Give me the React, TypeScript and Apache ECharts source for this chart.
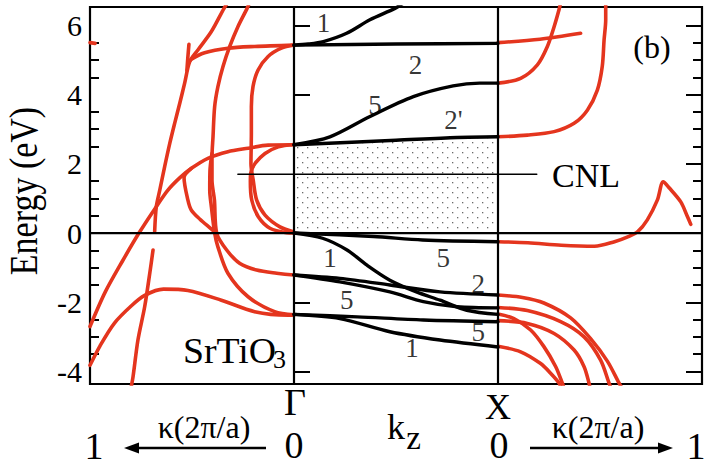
import { useEffect, useRef } from "react";
import * as echarts from "echarts";

const FONT = '"Liberation Serif", "Times New Roman", serif';
const RED = "#e4351e";

// ---- axis values ----
const yMin = -4.36;
const yMax = 6.53;
const majorTicks = [-4, -2, 0, 2, 4, 6];
const minorTicks = [-3.5, -3, -2.5, -1.5, -1, -0.5, 0.5, 1, 1.5, 2.5, 3, 3.5, 4.5, 5, 5.5];
// x: left panel κ 1..0 -> -1..0, middle kz Γ..X -> 0..1, right panel κ 0..1 -> 1..2
const xMin = -1;
const xMax = 2;
const cnlEnergy = 1.7;
const cnlSpan = [-0.275, 1.19];

// ---- middle panel: real bands along kz (fraction Γ→X, energy eV) ----
const kzBand1Upper = [[0, 5.43], [0.07, 5.46], [0.144, 5.53], [0.258, 5.77], [0.372, 6.16], [0.495, 6.49], [0.53, 6.62]];
const kzBand2Upper = [[0, 5.43], [0.5, 5.46], [1, 5.48]];
const kzBand5Upper = [[0, 2.55], [0.176, 2.78], [0.37, 3.36], [0.585, 3.94], [0.78, 4.25], [0.91, 4.33], [1, 4.33]];
const kzBand2Prime = [[0, 2.55], [0.5, 2.68], [0.8, 2.76], [1, 2.78]];
const kzBand5Top = [[0, 0], [0.39, -0.1], [0.63, -0.2], [1, -0.25]];
const kzBand1Top = [[0, 0], [0.14, -0.15], [0.26, -0.49], [0.356, -0.92], [0.47, -1.36], [0.6, -1.7], [0.716, -1.94], [0.847, -2.23], [1, -2.35]];
const kzBand2Mid = [[0, -1.21], [0.225, -1.31], [0.47, -1.5], [0.716, -1.7], [1, -1.79]];
const kzBand5Mid = [[0, -1.21], [0.225, -1.41], [0.47, -1.7], [0.634, -1.98], [0.8, -2.13], [1, -2.16]];
const kzBand5Low = [[0, -2.35], [0.31, -2.42], [0.634, -2.51], [1, -2.56]];
const kzBand1Low = [[0, -2.35], [0.225, -2.47], [0.47, -2.85], [0.716, -3.09], [1, -3.29]];

// ---- left panel: complex bands at Γ (κ in 2π/a, energy eV) ----
const leftA = [[0.32, 6.7], [0.343, 6.49], [0.405, 5.82], [0.471, 5.29], [0.511, 4.95], [0.536, 4.33], [0.56, 3.75], [0.585, 3.17], [0.609, 2.59], [0.634, 1.92], [0.658, 1.24], [0.675, 0.76], [0.683, 0.05]];
const leftA2 = [[0.691, -0.49], [0.707, -1.16], [0.732, -2.13], [0.765, -3.09], [0.789, -4.15], [0.8, -4.5]];
const leftB = [[0.215, 6.7], [0.23, 6.49], [0.275, 5.96], [0.315, 5.39], [0.348, 4.81], [0.373, 4.23], [0.389, 3.65], [0.397, 2.78], [0.402, 2.2], [0.402, 1.53], [0.39, 0.95], [0.379, 0], [0.33, -0.49], [0.265, -0.88], [0.183, -1.07], [0.085, -1.16], [0, -1.21]];
const leftC = [[0, -2.36], [0.095, -2.27], [0.225, -1.84], [0.324, -1.16], [0.373, -0.4], [0.389, 0], [0.405, 0.76], [0.413, 1.24], [0.412, 1.8], [0.402, 2.3]];
const leftD = [[0, 2.55], [0.127, 2.54], [0.225, 2.45], [0.324, 2.35], [0.422, 2.16], [0.503, 1.87], [0.559, 1.6], [0.618, 1.24], [0.68, 0.72], [0.76, 0], [0.84, -0.8], [0.925, -1.7], [1.0, -2.7]];
const leftE = [[1.0, -3.82], [0.95, -3.25], [0.88, -2.6], [0.797, -2.1], [0.732, -1.8], [0.64, -1.62], [0.52, -1.66], [0.356, -1.94], [0.193, -2.27], [0.029, -2.37], [0, -2.37]];
const leftF = [[0, 2.56], [0.077, 2.49], [0.142, 2.3], [0.191, 2.01], [0.212, 1.73], [0.214, 1.5], [0.207, 0.95], [0.175, 0.47], [0.118, 0.14], [0.036, 0.01], [0, 0]];
const leftG = [[0, 5.43], [0.062, 5.34], [0.127, 5.1], [0.176, 4.71], [0.201, 4.23], [0.209, 3.65], [0.209, 2.88], [0.211, 2.0], [0.2, 1.53], [0.183, 0.95], [0.142, 0.52], [0.069, 0.18], [0, 0.03]];
const leftH = [[0, 5.43], [0.193, 5.39], [0.324, 5.34], [0.438, 5.21], [0.503, 5.02], [0.52, 4.9]];
const leftHook = [[0.515, 5.45], [0.52, 5.1], [0.525, 4.7]];
const leftDot = [[1.0, 5.5], [0.975, 5.48]];
const leftI = [[0.503, 1.87], [0.539, 1.6], [0.52, 0.95], [0.503, 0.66], [0.461, 0.4], [0.412, 0.15], [0.382, 0]];

// ---- right panel: complex bands at X (κ in 2π/a, energy eV) ----
const rightA = [[0, 5.5], [0.206, 5.6], [0.405, 5.77]];
const rightB = [[0, 4.33], [0.111, 4.47], [0.193, 4.86], [0.242, 5.39], [0.275, 5.96], [0.299, 6.45], [0.309, 6.7]];
const rightC = [[0, 2.78], [0.144, 2.83], [0.275, 2.93], [0.373, 3.17], [0.438, 3.55], [0.487, 4.13], [0.511, 4.81], [0.52, 5.58], [0.528, 6.16], [0.528, 6.7]];
const rightD = [[0, -0.25], [0.147, -0.28], [0.31, -0.35], [0.473, -0.38], [0.571, -0.25], [0.636, -0.11], [0.685, 0.04], [0.732, 0.38], [0.781, 0.95], [0.81, 1.48], [0.84, 1.3], [0.896, 0.9], [0.929, 0.47], [0.945, 0.25]];
const rightE = [[0, -1.79], [0.12, -1.86], [0.225, -2.02], [0.356, -2.45], [0.454, -3.05], [0.536, -3.7], [0.593, -4.33], [0.61, -4.5]];
const rightF = [[0, -2.15], [0.144, -2.24], [0.307, -2.56], [0.422, -3.0], [0.503, -3.67], [0.544, -4.33], [0.555, -4.5]];
const rightG = [[0, -2.34], [0.078, -2.47], [0.16, -2.8], [0.225, -3.28], [0.283, -3.86], [0.315, -4.33], [0.325, -4.5]];
const rightH = [[0, -2.53], [0.144, -2.61], [0.275, -2.9], [0.373, -3.38], [0.422, -3.86], [0.446, -4.33], [0.452, -4.5]];
const rightI = [[0, -3.27], [0.111, -3.43], [0.209, -3.77], [0.258, -4.05], [0.299, -4.33], [0.31, -4.5]];

const leftCurves = [leftA, leftA2, leftB, leftC, leftD, leftE, leftF, leftG, leftH, leftHook, leftDot, leftI];
const rightCurves = [rightA, rightB, rightC, rightD, rightE, rightF, rightG, rightH, rightI];
const middleBands = [kzBand1Upper, kzBand2Upper, kzBand5Upper, kzBand5Top, kzBand1Top, kzBand2Mid, kzBand5Mid, kzBand5Low, kzBand1Low];

// band labels (text, kz, energy)
const bandLabels: [string, number, number][] = [
  ["1", 0.145, 6.06], ["2", 0.596, 4.86], ["5", 0.397, 3.7], ["2'", 0.782, 3.27],
  ["1", 0.176, -0.72], ["5", 0.732, -0.72], ["2", 0.903, -1.46], ["5", 0.258, -1.94], ["5", 0.903, -2.85], ["1", 0.579, -3.33],
];

export default function App() {
  const ref = useRef<HTMLDivElement>(null);
  useEffect(() => {
    const chart = echarts.init(ref.current!, null, { renderer: "svg" });

    const cv = document.createElement("canvas");
    cv.width = 10;
    cv.height = 10;
    const ctx = cv.getContext("2d")!;
    ctx.fillStyle = "#ffffff";
    ctx.fillRect(0, 0, 10, 10);
    ctx.fillStyle = "#6a6a6a";
    ctx.fillRect(2, 2, 1.3, 1.3);
    ctx.fillRect(7, 7, 1.3, 1.3);

    const curve = (data: number[][], color: string, width: number, z: number, extra: any = {}) => ({
      type: "line",
      data,
      symbol: "none",
      showSymbol: false,
      smooth: 0.3,
      silent: true,
      animation: false,
      clip: true,
      z,
      lineStyle: { color, width, cap: "round", join: "round" },
      ...extra,
    });

    const series: any[] = [];
    // shaded gap region under band 2'
    series.push(
      curve(kzBand2Prime, "#000", 3.4, 4, {
        areaStyle: { color: { image: cv, repeat: "repeat" }, opacity: 1 },
      })
    );
    leftCurves.forEach((c) => series.push(curve(c.map(([k, e]) => [-k, e]), RED, 3.6, 3)));
    rightCurves.forEach((c) => series.push(curve(c.map(([k, e]) => [xMax - 1 + k, e]), RED, 3.6, 3)));
    middleBands.forEach((c) => series.push(curve(c, "#000", 3.4, 5)));
    // frame lines: Γ, X, E=0, CNL
    series.push(curve([[0, yMin], [0, yMax]], "#000", 2.2, 6, { smooth: false }));
    series.push(curve([[1, yMin], [1, yMax]], "#000", 2.2, 6, { smooth: false }));
    series.push(curve([[xMin, 0], [xMax, 0]], "#000", 2.2, 6, { smooth: false }));
    series.push(curve([[cnlSpan[0], cnlEnergy], [cnlSpan[1], cnlEnergy]], "#000", 1.5, 6, { smooth: false }));
    // band labels
    series.push({
      type: "scatter",
      data: bandLabels.map(([t, x, y]) => ({ value: [x, y], name: t })),
      symbolSize: 0,
      silent: true,
      z: 7,
      label: {
        show: true,
        position: "inside",
        formatter: (p: any) => p.name,
        fontFamily: FONT,
        fontSize: 27,
        color: "#000",
      },
    });

    const yBase = {
      type: "value",
      min: yMin,
      max: yMax,
      axisLine: { show: false },
      splitLine: { show: false },
    };
    const tickStyle = { color: "#000", width: 2 };

    const txt = (text: string, x: number, y: number, size: number, extra: any = {}) => ({
      type: "text",
      x,
      y,
      z: 100,
      style: {
        text,
        fontSize: size,
        fontFamily: FONT,
        fill: "#000",
        align: "center",
        verticalAlign: "middle",
        textAlign: "center",
        textVerticalAlign: "middle",
        ...extra,
      },
    });

    const graphic: any[] = [
      { ...txt("Energy (eV)", 24, 191, 34), rotation: Math.PI / 2, scaleY: 1.15 },
      txt("(b)", 652, 47, 32),
      txt("CNL", 552, 175, 34, { align: "left", textAlign: "left" }),
      { ...txt("SrTiO", 183, 351, 35, { align: "left", textAlign: "left" }), scaleX: 1.08 },
      txt("3", 273, 359, 26, { align: "left", textAlign: "left" }),
      txt("Γ", 295, 402, 38),
      txt("X", 498, 407, 36),
      txt("0", 294, 445, 38),
      txt("0", 499, 445, 38),
      txt("1", 94, 446, 38),
      txt("1", 696, 446, 38),
      txt("k", 396, 427, 36),
      txt("z", 413.5, 438, 33),
      txt("κ(2π/a)", 204, 427, 32),
      txt("κ(2π/a)", 598, 427, 32),
      { type: "line", shape: { x1: 137, y1: 448, x2: 266, y2: 448 }, style: { stroke: "#000", lineWidth: 2.5 } },
      { type: "polygon", shape: { points: [[124, 448], [139, 442.5], [139, 453.5]] }, style: { fill: "#000" } },
      { type: "line", shape: { x1: 530, y1: 448, x2: 660, y2: 448 }, style: { stroke: "#000", lineWidth: 2.5 } },
      { type: "polygon", shape: { points: [[673, 448], [658, 442.5], [658, 453.5]] }, style: { fill: "#000" } },
    ];

    chart.setOption({
      animation: false,
      backgroundColor: "#fff",
      grid: { left: 90, right: 14, top: 7, bottom: 85, show: true, borderColor: "#000", borderWidth: 2.2, backgroundColor: "transparent" },
      xAxis: {
        type: "value",
        min: xMin,
        max: xMax,
        axisLine: { show: false },
        axisTick: { show: false },
        axisLabel: { show: false },
        splitLine: { show: false },
      },
      yAxis: [
        {
          ...yBase,
          position: "left",
          axisTick: { show: true, inside: true, length: 16, customValues: majorTicks, lineStyle: tickStyle },
          axisLabel: { show: true, customValues: majorTicks, fontSize: 30, fontFamily: FONT, color: "#000", margin: 8 },
        },
        {
          ...yBase,
          position: "left",
          axisTick: { show: true, inside: true, length: 9, customValues: minorTicks, lineStyle: tickStyle },
          axisLabel: { show: false },
        },
        {
          ...yBase,
          position: "right",
          axisTick: { show: true, inside: true, length: 16, customValues: majorTicks, lineStyle: tickStyle },
          axisLabel: { show: false },
        },
        {
          ...yBase,
          position: "right",
          axisTick: { show: true, inside: true, length: 9, customValues: minorTicks, lineStyle: tickStyle },
          axisLabel: { show: false },
        },
      ],
      series,
      graphic,
    });
    return () => chart.dispose();
  }, []);
  return <div ref={ref} style={{ position: "fixed", left: 0, top: 0, width: 716, height: 469, background: "#fff" }} />;
}
